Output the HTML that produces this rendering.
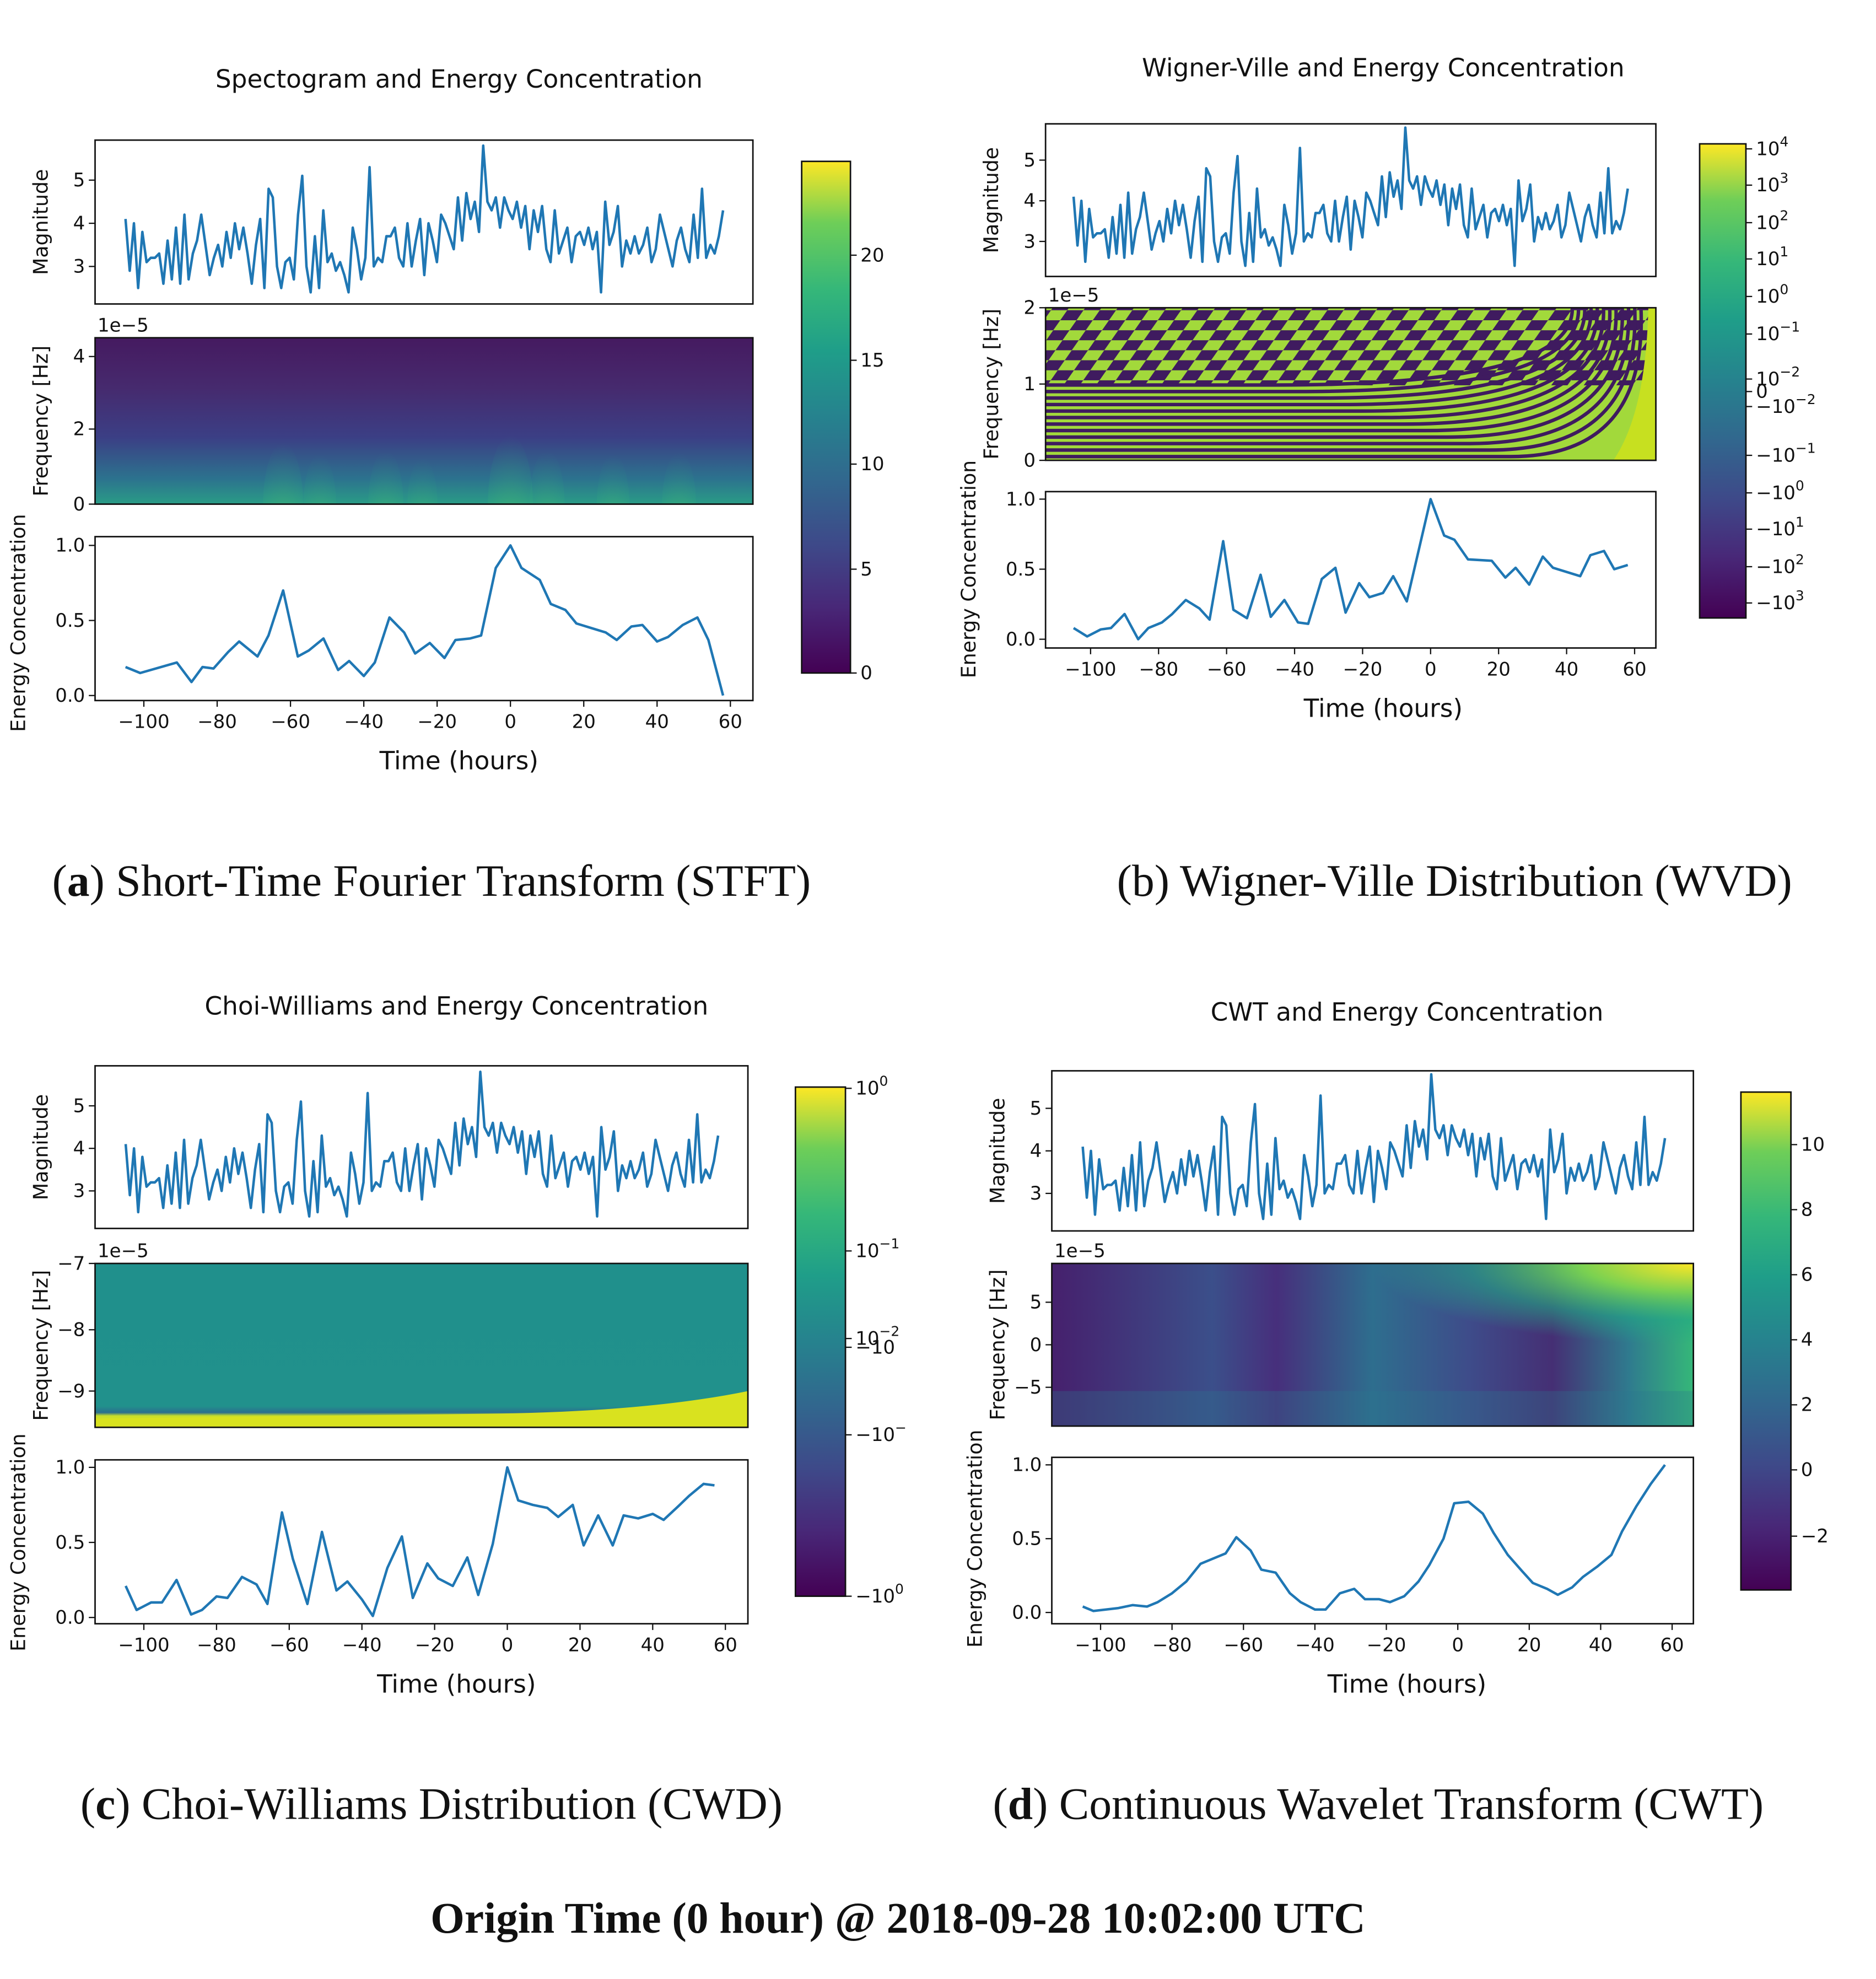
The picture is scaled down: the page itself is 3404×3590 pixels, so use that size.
<!DOCTYPE html>
<html><head><meta charset="utf-8"><style>
html,body{margin:0;padding:0;background:#fff;}
svg{display:block;}
</style></head><body>
<svg id="fig" xmlns="http://www.w3.org/2000/svg" width="3404" height="3590" viewBox="0 0 1500 1582">
<defs>
<linearGradient id="viridisV" x1="0" y1="1" x2="0" y2="0">
<stop offset="0" stop-color="#440154"/><stop offset="0.13" stop-color="#482878"/><stop offset="0.25" stop-color="#3e4989"/><stop offset="0.38" stop-color="#31688e"/><stop offset="0.5" stop-color="#26828e"/><stop offset="0.63" stop-color="#1f9e89"/><stop offset="0.75" stop-color="#35b779"/><stop offset="0.88" stop-color="#6ece58"/><stop offset="1" stop-color="#fde725"/>
</linearGradient>
<linearGradient id="stftBg" x1="0" y1="1" x2="0" y2="0">
<stop offset="0" stop-color="#2a9c86"/><stop offset="0.15" stop-color="#2c738e"/><stop offset="0.4" stop-color="#3b3f85"/><stop offset="0.7" stop-color="#462a6e"/><stop offset="1" stop-color="#451a60"/>
</linearGradient>
<linearGradient id="cwdBg" x1="0" y1="1" x2="0" y2="0">
<stop offset="0" stop-color="#e6e31f"/><stop offset="0.07" stop-color="#c8de2a"/><stop offset="0.09" stop-color="#2b6f8e"/><stop offset="0.13" stop-color="#21918c"/><stop offset="1" stop-color="#20908c"/>
</linearGradient>
<linearGradient id="cwtBg" x1="0" y1="0" x2="1" y2="0">
<stop offset="0" stop-color="#46206d"/><stop offset="0.25" stop-color="#3b4f8a"/><stop offset="0.35" stop-color="#472f7c"/><stop offset="0.5" stop-color="#2e6e8e"/><stop offset="0.65" stop-color="#3e4c8a"/><stop offset="0.78" stop-color="#452f74"/><stop offset="0.9" stop-color="#2f7b8e"/><stop offset="1" stop-color="#35b779"/>
</linearGradient>
<radialGradient id="cwtCorner" cx="1" cy="0" r="0.5">
<stop offset="0" stop-color="#fde725"/><stop offset="0.35" stop-color="#7ad151"/><stop offset="0.7" stop-color="#22a884" stop-opacity="0.6"/><stop offset="1" stop-color="#22a884" stop-opacity="0"/>
</radialGradient>
<radialGradient id="hotGrad" cx="0.5" cy="1" r="1">
<stop offset="0" stop-color="#6ccd5a" stop-opacity="0.9"/><stop offset="1" stop-color="#22a884" stop-opacity="0"/>
</radialGradient>
<pattern id="wvdPat" width="26" height="16" patternUnits="userSpaceOnUse" patternTransform="skewX(-35)">
<rect width="26" height="16" fill="#a2d93b"/><rect x="0" y="0" width="13" height="8" fill="#3f1b5f"/><rect x="13" y="8" width="13" height="8" fill="#3f1b5f"/>
</pattern>
<clipPath id="wvdClip"><rect x="836" y="246" width="488" height="122"/></clipPath>
<clipPath id="cwtClip"><rect x="841" y="1010" width="513" height="130"/></clipPath>
<clipPath id="stftClip"><rect x="76" y="270" width="526" height="133"/></clipPath>
</defs>
</svg>
<script>
// ===== data =====
const magValues = [4.1,2.9,4.0,2.5,3.8,3.1,3.2,3.2,3.3,2.6,3.6,2.7,3.9,2.6,4.2,2.7,3.3,3.6,4.2,3.5,2.8,3.2,3.5,3.0,3.8,3.2,4.0,3.4,3.9,3.3,2.6,3.5,4.1,2.5,4.8,4.6,3.0,2.5,3.1,3.2,2.7,4.2,5.1,3.0,2.4,3.7,2.5,4.3,3.1,3.3,2.9,3.1,2.8,2.4,3.9,3.4,2.7,3.2,5.3,3.0,3.2,3.1,3.7,3.7,3.9,3.2,3.0,4.0,3.0,3.6,4.1,2.8,4.0,3.6,3.1,4.2,4.0,3.7,3.4,4.6,3.6,4.7,4.1,4.5,3.8,5.8,4.5,4.3,4.6,3.9,4.6,4.3,4.1,4.5,3.9,4.4,3.4,4.3,3.8,4.4,3.4,3.1,4.3,3.3,3.6,3.9,3.1,3.7,3.8,3.5,3.9,3.4,3.8,2.4,4.5,3.5,3.8,4.4,3.0,3.6,3.3,3.7,3.3,3.5,3.9,3.1,3.4,4.2,3.8,3.4,3.0,3.6,3.9,3.4,3.1,4.2,3.2,4.8,3.2,3.5,3.3,3.7,4.3];
const magStart = -105, magEnd = 58;

const stftHours = [-105,-101,-91,-87,-84,-81,-77,-74,-69,-66,-62,-58,-55,-51,-47,-44,-40,-37,-33,-29,-26,-22,-18,-15,-11,-8,-4,0,3,8,11,15,18,22,26,29,33,36,40,43,47,51,54,58];
const stftEnergy = [0.19,0.15,0.22,0.09,0.19,0.18,0.29,0.36,0.26,0.40,0.70,0.26,0.30,0.38,0.17,0.23,0.13,0.22,0.52,0.42,0.28,0.35,0.25,0.37,0.38,0.40,0.85,1.0,0.85,0.77,0.61,0.57,0.48,0.45,0.42,0.37,0.46,0.47,0.36,0.39,0.47,0.52,0.37,0.0];

const wvdHours = [-105,-101,-97,-94,-90,-86,-83,-79,-76,-72,-68,-65,-61,-58,-54,-50,-47,-43,-39,-36,-32,-28,-25,-21,-18,-14,-11,-7,0,4,7,11,18,22,25,29,33,36,40,44,47,51,54,58];
const wvdEnergy = [0.08,0.02,0.07,0.08,0.18,0.0,0.08,0.12,0.18,0.28,0.22,0.14,0.70,0.21,0.15,0.46,0.16,0.28,0.12,0.11,0.43,0.51,0.19,0.40,0.30,0.33,0.45,0.27,1.0,0.74,0.71,0.57,0.56,0.44,0.51,0.39,0.59,0.51,0.48,0.45,0.60,0.63,0.50,0.53];

const cwdHours = [-105,-102,-98,-95,-91,-87,-84,-80,-77,-73,-69,-66,-62,-59,-55,-51,-47,-44,-40,-37,-33,-29,-26,-22,-19,-15,-11,-8,-4,0,3,7,11,14,18,21,25,29,32,36,40,43,47,50,54,57];
const cwdEnergy = [0.21,0.05,0.10,0.10,0.25,0.02,0.05,0.14,0.13,0.27,0.22,0.09,0.70,0.39,0.09,0.57,0.18,0.24,0.12,0.01,0.33,0.54,0.13,0.36,0.26,0.21,0.40,0.15,0.49,1.0,0.78,0.75,0.73,0.67,0.75,0.48,0.68,0.48,0.68,0.66,0.69,0.65,0.74,0.81,0.89,0.88];

const cwtHours = [-105,-102,-95,-91,-87,-84,-80,-76,-72,-69,-65,-62,-58,-55,-51,-47,-44,-40,-37,-33,-29,-26,-22,-19,-15,-11,-8,-4,-1,3,7,10,14,18,21,25,28,32,35,39,43,46,50,54,58];
const cwtEnergy = [0.04,0.01,0.03,0.05,0.04,0.07,0.13,0.21,0.33,0.36,0.40,0.51,0.42,0.29,0.27,0.13,0.07,0.02,0.02,0.13,0.16,0.09,0.09,0.07,0.11,0.21,0.32,0.50,0.74,0.75,0.67,0.54,0.39,0.28,0.20,0.16,0.12,0.17,0.24,0.31,0.39,0.55,0.72,0.87,1.0];

const stftHotHours = [-62,-52,-34,-24,0,10,28,46];
const stftHotLevels = [0.8,0.5,0.6,0.4,1.0,0.6,0.5,0.55];

const timeTicks = [-100,-80,-60,-40,-20,0,20,40,60];
const magTicks = [3,4,5];
const energyTicks = [0,0.5,1.0];

// ===== helpers =====
const NS = 'http://www.w3.org/2000/svg';
const svg = document.getElementById('fig');
function lin(d0,d1,r0,r1){return v => r0 + (v-d0)*(r1-r0)/(d1-d0);}
function el(tag, name, parent){
  const e = document.createElementNS(NS, tag);
  
  
  (parent||svg).appendChild(e);
  return e;
}
function txt(s, x, y, size, name, opts){
  opts = opts||{};
  const t = el('text', name, opts.parent);
  t.setAttribute('x', x); t.setAttribute('y', y);
  t.setAttribute('font-size', size);
  t.setAttribute('font-family', opts.serif ? '"Liberation Serif", serif' : '"DejaVu Sans", "Liberation Sans", sans-serif');
  t.setAttribute('text-anchor', opts.anchor||'middle');
  t.setAttribute('fill', '#111');
  if (opts.weight) t.setAttribute('font-weight', opts.weight);
  if (opts.rot) t.setAttribute('transform', 'rotate(-90 '+x+' '+y+')');
  if (opts.html) t.innerHTML = s; else t.textContent = s;
  return t;
}
function frame(x0,y0,x1,y1,name){
  const r = el('rect', name);
  r.setAttribute('x',x0); r.setAttribute('y',y0); r.setAttribute('width',x1-x0); r.setAttribute('height',y1-y0);
  r.setAttribute('fill','none'); r.setAttribute('stroke','#111'); r.setAttribute('stroke-width','1.2');
}
function fillRect(x0,y0,x1,y1,fill,name,parent){
  const r = el('rect', name, parent);
  r.setAttribute('x',x0); r.setAttribute('y',y0); r.setAttribute('width',x1-x0); r.setAttribute('height',y1-y0);
  r.setAttribute('fill',fill);
  return r;
}
function yTick(x, y, label, name){
  const l = el('line', name+'-mark');
  l.setAttribute('x1',x-5); l.setAttribute('x2',x); l.setAttribute('y1',y); l.setAttribute('y2',y);
  l.setAttribute('stroke','#111'); l.setAttribute('stroke-width','1');
  txt(label, x-8, y+5, 15, name, {anchor:'end'});
}
function xTick(x, y, label, name){
  const l = el('line', name+'-mark');
  l.setAttribute('x1',x); l.setAttribute('x2',x); l.setAttribute('y1',y); l.setAttribute('y2',y+5);
  l.setAttribute('stroke','#111'); l.setAttribute('stroke-width','1');
  txt(label, x, y+22, 15, name);
}
function line(xs, ys, xsc, ysc, name){
  const p = el('path', name);
  p.setAttribute('d', xs.map((v,i)=>(i?'L':'M')+xsc(v).toFixed(2)+','+ysc(ys[i]).toFixed(2)).join(''));
  p.setAttribute('fill','none'); p.setAttribute('stroke','#1f77b4'); p.setAttribute('stroke-width','2');
  p.setAttribute('stroke-linejoin','round');
}
function fmtNum(v){ return (v<0?'\u2212':'') + Math.abs(v); }
const magTimes = magValues.map((_,i)=> magStart + i*(magEnd-magStart)/(magValues.length-1));

function panel(P){
  const id = P.id;
  txt(P.title, P.cX, P.titleY, 20, id+'-title');
  const xs = lin(-100,60,P.xA,P.xB);
  const my = lin(3,5,P.m3,P.m5);
  line(magTimes, magValues, xs, my, id+'-magnitude-line');
  frame(P.x0,P.my0,P.x1,P.my1,id+'-magnitude-axes');
  magTicks.forEach(v=>yTick(P.x0, my(v), String(v), id+'-magnitude-tick'));
  txt('Magnitude', P.x0-38, (P.my0+P.my1)/2, 16, id+'-magnitude-label', {rot:true});
  P.heat(P);
  frame(P.x0,P.fy0,P.x1,P.fy1,id+'-tf-axes');
  P.fticks.forEach((v,i)=>yTick(P.x0, P.fpos[i], fmtNum(v), id+'-frequency-tick'));
  txt('1e\u22125', P.x0+2, P.fy0-5, 15, id+'-frequency-offset', {anchor:'start'});
  txt('Frequency [Hz]', P.x0-38, (P.fy0+P.fy1)/2, 16, id+'-frequency-label', {rot:true});
  const ey = lin(0,1,P.e0,P.e1);
  line(P.eh, P.ev, xs, ey, id+'-energy-line');
  frame(P.x0,P.ey0,P.x1,P.ey1,id+'-energy-axes');
  energyTicks.forEach(v=>yTick(P.x0, ey(v), v.toFixed(1), id+'-energy-tick'));
  timeTicks.forEach(v=>xTick(xs(v), P.ey1, fmtNum(v), id+'-time-tick'));
  txt('Energy Concentration', P.x0-56, P.elY, 16, id+'-energy-label', {rot:true});
  txt('Time (hours)', P.cX, P.ey1+55, 20, id+'-time-label');
  fillRect(P.cx0,P.cy0,P.cx1,P.cy1,'url(#viridisV)',id+'-colorbar');
  frame(P.cx0,P.cy0,P.cx1,P.cy1,id+'-colorbar-frame');
  P.cbLabels.forEach((s,i)=>{
    const y = P.cbPos[i];
    const l = el('line', id+'-colorbar-tick-mark');
    l.setAttribute('x1',P.cx1); l.setAttribute('x2',P.cx1+5); l.setAttribute('y1',y); l.setAttribute('y2',y);
    l.setAttribute('stroke','#111');
    txt(s, P.cx1+8, y+5, 15, id+'-colorbar-tick', {anchor:'start', html:true});
  });
  txt(P.caption, P.capX, P.capY, 36, id+'-caption', {serif:true, html:true});
}

panel({id:'stft', title:'Spectogram and Energy Concentration', titleY:70, cX:367, x0:76, x1:602,
  xA:115, xB:584, my0:112, my1:243, m3:213, m5:144,
  fy0:270, fy1:403, fticks:[0,2,4], fpos:[403,343,285],
  heat:P=>{
    const g = el('g','stft-spectrogram');
    g.setAttribute('clip-path','url(#stftClip)');
    fillRect(P.x0,P.fy0,P.x1,P.fy1,'url(#stftBg)','stft-background',g);
    const hx = lin(-100,60,P.xA,P.xB);
    stftHotHours.forEach((h,i)=>{
      const e = el('ellipse','stft-spectrogram-hotspot',g);
      e.setAttribute('cx', hx(h)); e.setAttribute('cy', P.fy1);
      e.setAttribute('rx', 8+10*stftHotLevels[i]); e.setAttribute('ry', 25+30*stftHotLevels[i]);
      e.setAttribute('fill', 'url(#hotGrad)');
      e.setAttribute('opacity', 0.3+0.5*stftHotLevels[i]);
    });
  },
  eh:stftHours, ev:stftEnergy, ey0:429, ey1:560, e0:556, e1:436, elY:498,
  cx0:641, cx1:680, cy0:129, cy1:538,
  cbLabels:['0','5','10','15','20'], cbPos:[538,455,371,288,204],
  caption:'(<tspan font-weight="bold">a</tspan>) Short-Time Fourier Transform (STFT)', capX:345, capY:716});

panel({id:'wvd', title:'Wigner-Ville and Energy Concentration', titleY:61, cX:1106, x0:836, x1:1324,
  xA:872, xB:1307, my0:99, my1:221, m3:193, m5:128,
  fy0:246, fy1:368, fticks:[0,1,2], fpos:[368,307,246],
  heat:P=>{
    const g = el('g','wvd-distribution');
    g.setAttribute('clip-path','url(#wvdClip)');
    fillRect(P.x0,P.fy0,P.x1,P.fy1,'url(#wvdPat)','wvd-pattern',g);
    fillRect(P.x0,308,P.x1,P.fy1,'#a2d93b','wvd-lower',g);
    for(let k=0;k<12;k++){
      const y = P.fy1 - 3 - k*5.2;
      const xe = 1318 - k*5;
      const p = el('path','wvd-band',g);
      p.setAttribute('d','M'+P.x0+','+y+' L'+(xe-110-k*12)+','+y+' Q'+xe+','+y+' '+(xe-6)+','+(P.fy0-2));
      p.setAttribute('fill','none'); p.setAttribute('stroke','#3f1b5f'); p.setAttribute('stroke-width','2.8');
    }
    const c = el('path','wvd-corner',g);
    c.setAttribute('d','M1290,368 Q1316,330 1318,246 L1324,246 L1324,368 Z');
    c.setAttribute('fill','#c7e020');
  },
  eh:wvdHours, ev:wvdEnergy, ey0:393, ey1:518, e0:511, e1:399, elY:455,
  cx0:1359, cx1:1396, cy0:115, cy1:494,
  cbLabels:['10<tspan dy="-7" font-size="11">4</tspan>','10<tspan dy="-7" font-size="11">3</tspan>','10<tspan dy="-7" font-size="11">2</tspan>','10<tspan dy="-7" font-size="11">1</tspan>','10<tspan dy="-7" font-size="11">0</tspan>','10<tspan dy="-7" font-size="11">\u22121</tspan>','10<tspan dy="-7" font-size="11">\u22122</tspan>','0','\u221210<tspan dy="-7" font-size="11">\u22122</tspan>','\u221210<tspan dy="-7" font-size="11">\u22121</tspan>','\u221210<tspan dy="-7" font-size="11">0</tspan>','\u221210<tspan dy="-7" font-size="11">1</tspan>','\u221210<tspan dy="-7" font-size="11">2</tspan>','\u221210<tspan dy="-7" font-size="11">3</tspan>'],
  cbPos:[119,148,178,207,237,267,303,313,325,364,394,423,453,482],
  caption:'(b) Wigner-Ville Distribution (WVD)', capX:1163, capY:716});

panel({id:'cwd', title:'Choi-Williams and Energy Concentration', titleY:811, cX:365, x0:76, x1:598,
  xA:115, xB:580, my0:852, my1:982, m3:952, m5:884,
  fy0:1010, fy1:1141, fticks:[-7,-8,-9], fpos:[1010,1063,1112],
  heat:P=>{
    fillRect(P.x0,P.fy0,P.x1,P.fy1,'url(#cwdBg)','cwd-distribution');
    const w = el('path','cwd-bottom-band');
    w.setAttribute('d','M76,1141 L76,1134 L400,1130 Q520,1128 598,1112 L598,1141 Z');
    w.setAttribute('fill','#d9e21f');
  },
  eh:cwdHours, ev:cwdEnergy, ey0:1167, ey1:1298, e0:1293, e1:1173, elY:1233,
  cx0:636, cx1:676, cy0:869, cy1:1276,
  cbLabels:['10<tspan dy="-7" font-size="11">0</tspan>','10<tspan dy="-7" font-size="11">\u22121</tspan>','10<tspan dy="-7" font-size="11">\u22122</tspan>','\u221210','\u221210<tspan dy="-7" font-size="11">\u2212</tspan>','\u221210<tspan dy="-7" font-size="11">0</tspan>'],
  cbPos:[870,1000,1070,1077,1147,1276],
  caption:'(<tspan font-weight="bold">c</tspan>) Choi-Williams Distribution (CWD)', capX:345, capY:1454});

panel({id:'cwt', title:'CWT and Energy Concentration', titleY:816, cX:1125, x0:841, x1:1354,
  xA:880, xB:1337, my0:856, my1:984, m3:954, m5:886,
  fy0:1010, fy1:1140, fticks:[5,0,-5], fpos:[1041,1075,1109],
  heat:P=>{
    const g = el('g','cwt-scalogram');
    g.setAttribute('clip-path','url(#cwtClip)');
    fillRect(P.x0,P.fy0,P.x1,P.fy1,'url(#cwtBg)','cwt-background',g);
    fillRect(P.x0,P.fy0,P.x1,P.fy1,'url(#cwtCorner)','cwt-corner',g);
    const b = el('rect','cwt-bottom-ripple',g);
    b.setAttribute('x',P.x0); b.setAttribute('y',1112); b.setAttribute('width',P.x1-P.x0); b.setAttribute('height',28);
    b.setAttribute('fill','#2a788e'); b.setAttribute('opacity','0.3');
  },
  eh:cwtHours, ev:cwtEnergy, ey0:1165, ey1:1298, e0:1289, e1:1171, elY:1230,
  cx0:1392, cx1:1432, cy0:873, cy1:1271,
  cbLabels:['10','8','6','4','2','0','\u22122'], cbPos:[915,967,1019,1071,1123,1175,1228],
  caption:'(<tspan font-weight="bold">d</tspan>) Continuous Wavelet Transform (CWT)', capX:1102, capY:1454});

txt('Origin Time (0 hour) @ 2018-09-28 10:02:00 UTC', 718, 1545, 35, 'origin-time-footer', {serif:true, weight:'bold'});
</script>
</body></html>
